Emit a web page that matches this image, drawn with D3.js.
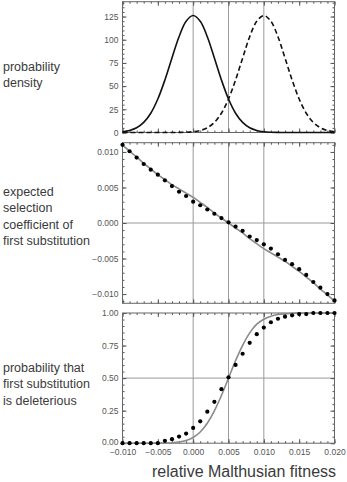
<!DOCTYPE html>
<html>
<head>
<meta charset="UTF-8">
<style>
  body { margin: 0; background: #fff; font-family: "Liberation Sans", Arial, sans-serif; }
  svg { display: block; }
  .tick text { font-size: 8.5px; fill: #555; font-family: "Liberation Sans", Arial, sans-serif; }
  .tick line { stroke: #555; }
  .side { font-size: 12.5px; fill: #3a3a3a; }
  .xtitle { font-size: 16px; fill: #3a3a3a; }
</style>
</head>
<body>
<svg width="347" height="482"></svg>
<script src="https://d3js.org/d3.v7.min.js"></script>
<script>
// relative Malthusian fitness, sampled every 0.001
const fitness = [-0.010, -0.009, -0.008, -0.007, -0.006, -0.005, -0.004, -0.003, -0.002, -0.001,
  0.000, 0.001, 0.002, 0.003, 0.004, 0.005, 0.006, 0.007, 0.008, 0.009,
  0.010, 0.011, 0.012, 0.013, 0.014, 0.015, 0.016, 0.017, 0.018, 0.019, 0.020];

// panel 1: probability density (solid, dashed)
const densitySolid = [0.85, 2.2, 5.1, 10.9, 20.8, 36.1, 56.6, 80.3, 103.2, 119.9,
  126.1, 119.9, 103.2, 80.3, 56.6, 36.1, 20.8, 10.9, 5.1, 2.2,
  0.85, 0.3, 0.1, 0, 0, 0, 0, 0, 0, 0, 0];
const densityDashed = [0, 0, 0, 0, 0, 0, 0, 0, 0.1, 0.3,
  0.85, 2.2, 5.1, 10.9, 20.8, 36.1, 56.6, 80.3, 103.2, 119.9,
  126.1, 119.9, 103.2, 80.3, 56.6, 36.1, 20.8, 10.9, 5.1, 2.2, 0.85];

// panel 2: expected selection coefficient of first substitution
const selectionCurve = [0.0110, 0.0101, 0.0093, 0.0084, 0.0076, 0.0068, 0.0061, 0.0054, 0.0048, 0.0042,
  0.0036, 0.0029, 0.0022, 0.0014, 0.0007, 0.0000, -0.0007, -0.0014, -0.0022, -0.0029,
  -0.0036, -0.0042, -0.0048, -0.0054, -0.0061, -0.0068, -0.0076, -0.0084, -0.0093, -0.0101, -0.0110];
const selectionDots = [0.0110, 0.0101, 0.0092, 0.0083, 0.0075, 0.0068, 0.0060, 0.0052, 0.0044, 0.0038,
  0.0030, 0.0025, 0.0019, 0.0013, 0.0007, 0.0001, -0.0005, -0.0011, -0.0019, -0.0024,
  -0.0030, -0.0036, -0.0044, -0.0052, -0.0058, -0.0065, -0.0073, -0.0083, -0.0091, -0.0100, -0.0109];

// panel 3: probability that first substitution is deleterious
const deleteriousCurve = [0, 0, 0, 0.0001, 0.0002, 0.0005, 0.0014, 0.0036, 0.0090, 0.021,
  0.044, 0.086, 0.153, 0.248, 0.366, 0.500, 0.634, 0.752, 0.847, 0.914,
  0.952, 0.975, 0.988, 0.994, 0.997, 0.999, 1, 1, 1, 1, 1];
const deleteriousDots = [0, 0, 0, 0, 0, 0, 0.018, 0.031, 0.051, 0.074,
  0.117, 0.168, 0.242, 0.318, 0.415, 0.506, 0.601, 0.687, 0.771, 0.837,
  0.888, 0.929, 0.956, 0.972, 0.982, 0.992, 0.992, 1, 1, 1, 1];

const xTicks = [-0.010, -0.005, 0.000, 0.005, 0.010, 0.015, 0.020];
const xTickLabels = ["\u22120.010", "\u22120.005", "0.000", "0.005", "0.010", "0.015", "0.020"];
const gridX = [0.000, 0.005, 0.010];
const densityTicks = [0, 25, 50, 75, 100, 125];
const selectionTicks = [-0.010, -0.005, 0.000, 0.005, 0.010];
const selectionTickLabels = ["\u22120.010", "\u22120.005", "0.000", "0.005", "0.010"];
const deleteriousTicks = [0, 0.25, 0.5, 0.75, 1];
const deleteriousTickLabels = ["0.00", "0.25", "0.50", "0.75", "1.00"];

const sideLabels = [
  { lines: ["probability", "density"], y: 71 },
  { lines: ["expected", "selection", "coefficient of", "first substitution"], y: 196 },
  { lines: ["probability that", "first substitution", "is deleterious"], y: 372 }
];

const svg = d3.select("svg");
const left = 122.5, right = 334.5;
const x = d3.scaleLinear().domain([-0.010, 0.020]).range([left, right]);
const xMinor = d3.range(-0.010, 0.0205, 0.001);

const panels = [
  { y: d3.scaleLinear().domain([0, 141]).range([132.5, 1.7]),
    major: densityTicks, minor: d3.range(0, 141, 5),
    fmt: d => d, hgrid: [] },
  { y: d3.scaleLinear().domain([-0.0113, 0.0113]).range([303.3, 142.7]),
    major: selectionTicks, minor: d3.range(-0.011, 0.0115, 0.001),
    fmt: (d, i) => selectionTickLabels[i], hgrid: [0] },
  { y: d3.scaleLinear().domain([0, 1]).range([443.2, 313]),
    major: deleteriousTicks, minor: d3.range(0, 1.001, 0.05),
    fmt: (d, i) => deleteriousTickLabels[i], hgrid: [0.5] }
];

panels.forEach((p, pi) => {
  const g = svg.append("g");
  const [y0, y1] = p.y.range();
  // grid
  g.selectAll(".vg").data(gridX).enter().append("line")
    .attr("x1", d => x(d)).attr("x2", d => x(d))
    .attr("y1", y1).attr("y2", y0)
    .attr("stroke", "#9a9a9a").attr("stroke-width", 1);
  g.selectAll(".hg").data(p.hgrid).enter().append("line")
    .attr("x1", left).attr("x2", right)
    .attr("y1", d => p.y(d)).attr("y2", d => p.y(d))
    .attr("stroke", "#9a9a9a").attr("stroke-width", 1);

  // axes (ticks point inward)
  const axes = [
    [d3.axisLeft(p.y).tickValues(p.major).tickSizeInner(-4).tickPadding(4).tickFormat(p.fmt), left, 0],
    [d3.axisLeft(p.y).tickValues(p.minor).tickSizeInner(-2).tickFormat(""), left, 0],
    [d3.axisRight(p.y).tickValues(p.major).tickSizeInner(-4).tickFormat(""), right, 0],
    [d3.axisRight(p.y).tickValues(p.minor).tickSizeInner(-2).tickFormat(""), right, 0],
    [d3.axisTop(x).tickValues(xTicks).tickSizeInner(-4).tickFormat(""), 0, y1],
    [d3.axisTop(x).tickValues(xMinor).tickSizeInner(-2).tickFormat(""), 0, y1],
    [d3.axisBottom(x).tickValues(xTicks).tickSizeInner(-4).tickPadding(6)
        .tickFormat(pi === 2 ? (d, i) => xTickLabels[i] : ""), 0, y0],
    [d3.axisBottom(x).tickValues(xMinor).tickSizeInner(-2).tickFormat(""), 0, y0]
  ];
  axes.forEach(([ax, tx, ty], ai) => {
    const a = g.append("g").attr("transform", `translate(${tx},${ty})`).call(ax.tickSizeOuter(0));
    a.select(".domain").remove();
    // lift the bottom-most y label a little so it clears the x labels
    if (ai === 0 && pi === 2) {
      a.selectAll(".tick text").filter(d => d === 0).attr("dy", "0.1em");
    }
  });

  g.append("rect")
    .attr("x", left).attr("y", y1)
    .attr("width", right - left).attr("height", y0 - y1)
    .attr("fill", "none").attr("stroke", "#666").attr("stroke-width", 1);
});

const curve = d3.curveCatmullRom;

// panel 1
const p1 = panels[0];
const line1 = vals => d3.line().curve(curve).x((d, i) => x(fitness[i])).y(d => p1.y(d))(vals);
svg.append("path").attr("d", line1(densitySolid))
  .attr("fill", "none").attr("stroke", "#111").attr("stroke-width", 1.6);
svg.append("path").attr("d", line1(densityDashed))
  .attr("fill", "none").attr("stroke", "#111").attr("stroke-width", 1.6)
  .attr("stroke-dasharray", "5,3");

// panel 2
const p2 = panels[1];
svg.append("path")
  .attr("d", d3.line().curve(curve).x((d, i) => x(fitness[i])).y(d => p2.y(d))(selectionCurve))
  .attr("fill", "none").attr("stroke", "#8a8a8a").attr("stroke-width", 1.6);
svg.append("g").selectAll("circle").data(selectionDots).enter().append("circle")
  .attr("cx", (d, i) => x(fitness[i])).attr("cy", d => p2.y(d))
  .attr("r", 2.1).attr("fill", "#000");

// panel 3
const p3 = panels[2];
svg.append("path")
  .attr("d", d3.line().curve(d3.curveMonotoneX).x((d, i) => x(fitness[i])).y(d => p3.y(d))(deleteriousCurve))
  .attr("fill", "none").attr("stroke", "#8a8a8a").attr("stroke-width", 1.6);
svg.append("g").selectAll("circle").data(deleteriousDots).enter().append("circle")
  .attr("cx", (d, i) => x(fitness[i])).attr("cy", d => p3.y(d))
  .attr("r", 2.1).attr("fill", "#000");

// side labels
sideLabels.forEach(s => {
  const t = svg.append("text").attr("class", "side").attr("x", 3).attr("y", s.y);
  s.lines.forEach((l, i) => {
    t.append("tspan").attr("x", 3).attr("dy", i === 0 ? 0 : 16.3).text(l);
  });
});

svg.append("text").attr("class", "xtitle")
  .attr("x", 244).attr("y", 477)
  .attr("text-anchor", "middle")
  .text("relative Malthusian fitness");
</script>
</body>
</html>
